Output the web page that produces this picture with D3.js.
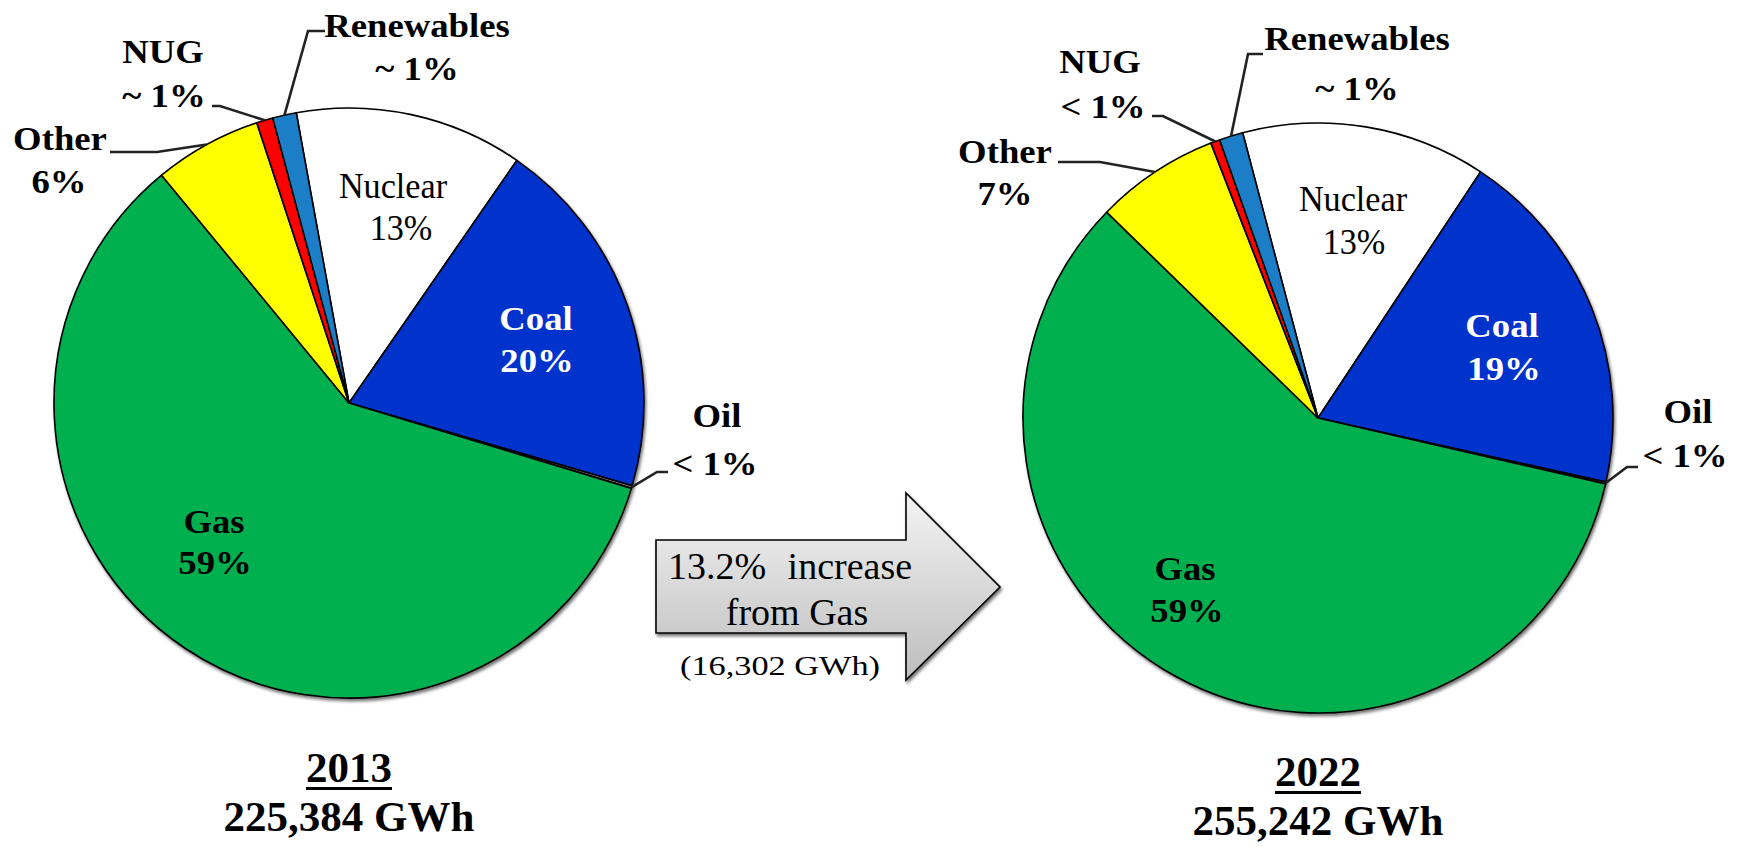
<!DOCTYPE html>
<html>
<head>
<meta charset="utf-8">
<script src="https://cdn.jsdelivr.net/npm/d3@7"></script>
<style>
  html, body { margin: 0; padding: 0; background: #fff; }
  svg { display: block; }
  text { font-family: "Liberation Serif", "Times New Roman", serif; }
</style>
</head>
<body>
<svg id="chart" width="1744" height="847"></svg>
<script>
// ---------- DATA ----------
const categories = ["Nuclear", "Coal", "Oil", "Gas", "Other", "NUG", "Renewables"];
const values2013 = [12.5, 19.9, 0.15, 59.4, 5.9, 0.9, 1.3];
const values2022 = [13.4, 19.2, 0.1, 58.7, 6.8, 0.5, 1.3];
const pctLabels2013 = ["13%", "20%", "< 1%", "59%", "6%", "~ 1%", "~ 1%"];
const pctLabels2022 = ["13%", "19%", "< 1%", "59%", "7%", "< 1%", "~ 1%"];
const years = ["2013", "2022"];
const totals = ["225,384 GWh", "255,242 GWh"];
const arrowLines = ["13.2% increase", "from Gas"];
const arrowNote = "(16,302 GWh)";

// ---------- STYLE / LAYOUT ----------
const colors = {
  Nuclear: "#FFFFFF", Coal: "#0033CC", Oil: "#7F7F7F", Gas: "#00B050",
  Other: "#FFFF00", NUG: "#FF0000", Renewables: "#1B7EC6"
};
const textColors = { Coal: "#FFFFFF" };
const regularCats = { Nuclear: true };

const pies = [
  {
    values: values2013, labels: pctLabels2013, year: years[0], total: totals[0],
    cx: 349, cy: 403, r: 295, start: -10.3,
    titleY: 782, totalY: 831,
    text: {
      Renewables: [[68, -366], [68, -323]],
      NUG: [[-186, -340], [-185, -296]],
      Other: [[-289, -253], [-290, -210]],
      Nuclear: [[44, -205], [52, -163]],
      Coal: [[187, -73], [188, -31]],
      Oil: [[368, 24], [366, 72]],
      Gas: [[-135, 130], [-134, 171]]
    },
    leaders: {
      Renewables: [[-24, -372], [-41, -372]],
      NUG: [[-137, -297], [-129, -297]],
      Other: [[-239, -251], [-192, -251]],
      Oil: [[319, 69], [308, 69]]
    }
  },
  {
    values: values2022, labels: pctLabels2022, year: years[1], total: totals[1],
    cx: 1318, cy: 418, r: 295, start: -14.8,
    titleY: 786, totalY: 835,
    text: {
      Renewables: [[39, -368], [39, -318]],
      NUG: [[-218, -345], [-215, -300]],
      Other: [[-313, -255], [-313, -213]],
      Nuclear: [[35, -207], [36, -164]],
      Coal: [[184, -81], [186, -38]],
      Oil: [[370, 5], [367, 49]],
      Gas: [[-133, 162], [-131, 204]]
    },
    leaders: {
      Renewables: [[-55, -364], [-70, -364]],
      NUG: [[-166, -302], [-155, -302]],
      Other: [[-260, -256], [-218, -256]],
      Oil: [[320, 49], [309, 49]]
    }
  }
];

const svg = d3.select("#chart");
const defs = svg.append("defs");

const shadow = defs.append("filter").attr("id", "shadow")
  .attr("x", "-10%").attr("y", "-10%").attr("width", "120%").attr("height", "120%");
shadow.append("feDropShadow").attr("dx", 1.5).attr("dy", 2.5)
  .attr("stdDeviation", 1.5).attr("flood-color", "#000").attr("flood-opacity", 0.55);

const grad = defs.append("linearGradient").attr("id", "arrowGrad")
  .attr("x1", 0).attr("y1", 0).attr("x2", 0).attr("y2", 1);
grad.append("stop").attr("offset", "0%").attr("stop-color", "#F4F4F4");
grad.append("stop").attr("offset", "100%").attr("stop-color", "#BDBDBD");

const deg = Math.PI / 180;

pies.forEach(p => {
  const data = categories.map((c, i) => ({ cat: c, value: p.values[i], label: p.labels[i] }));
  const pie = d3.pie().sort(null).value(d => d.value)
    .startAngle(p.start * deg).endAngle(p.start * deg + 2 * Math.PI);
  const arcs = pie(data);
  const arc = d3.arc().innerRadius(0).outerRadius(p.r);
  const rim = d3.arc().innerRadius(p.r).outerRadius(p.r);

  const g = svg.append("g").attr("transform", `translate(${p.cx},${p.cy})`);

  const slices = g.append("g").attr("filter", "url(#shadow)");
  slices.selectAll("path").data(arcs).join("path")
    .attr("d", arc)
    .attr("fill", d => colors[d.data.cat])
    .attr("stroke", "#000")
    .attr("stroke-width", 1.6)
    .attr("stroke-linejoin", "round");

  // leader lines
  arcs.forEach(a => {
    const L = p.leaders[a.data.cat];
    if (!L) return;
    const end = rim.centroid(a);
    g.append("path")
      .attr("d", d3.line()([L[0], L[1], end]))
      .attr("fill", "none")
      .attr("stroke", "#222")
      .attr("stroke-width", 2.6);
  });

  // labels
  arcs.forEach(a => {
    const cat = a.data.cat;
    const T = p.text[cat];
    if (!T) return;
    const regular = !!regularCats[cat];
    const fs = regular ? 36 : 34;
    const sx = regular ? 0.95 : 1.08;
    const fill = textColors[cat] || "#000";
    [[cat, T[0]], [a.data.label, T[1]]].forEach(([txt, pos]) => {
      g.append("text")
        .attr("transform", `translate(${pos[0]},${pos[1]}) scale(${sx},1)`)
        .attr("text-anchor", "middle")
        .attr("font-size", fs)
        .attr("font-weight", regular ? "normal" : "bold")
        .attr("fill", fill)
        .text(txt);
    });
  });

  // year + total
  const yt = svg.append("text")
    .attr("x", p.cx).attr("y", p.titleY)
    .attr("text-anchor", "middle").attr("font-size", 43).attr("font-weight", "bold")
    .text(p.year);
  const w = yt.node().getComputedTextLength();
  svg.append("rect")
    .attr("x", p.cx - w / 2).attr("y", p.titleY + 5)
    .attr("width", w).attr("height", 3).attr("fill", "#000");
  svg.append("text")
    .attr("x", p.cx).attr("y", p.totalY)
    .attr("text-anchor", "middle").attr("font-size", 43).attr("font-weight", "bold")
    .text(p.total);
});

// ---------- ARROW ----------
const arrowPts = [[656, 540], [906, 540], [906, 493], [1000, 587], [906, 680], [906, 633], [656, 633]];
svg.append("path")
  .attr("d", d3.line()(arrowPts) + "Z")
  .attr("fill", "url(#arrowGrad)")
  .attr("stroke", "#000")
  .attr("stroke-width", 1.6)
  .attr("stroke-linejoin", "miter")
  .attr("filter", "url(#shadow)");

svg.append("text").attr("x", 790).attr("y", 579)
  .attr("text-anchor", "middle").attr("font-size", 38)
  .attr("word-spacing", 12).text(arrowLines[0]);
svg.append("text").attr("x", 797).attr("y", 625)
  .attr("text-anchor", "middle").attr("font-size", 38).text(arrowLines[1]);
svg.append("text")
  .attr("transform", "translate(780,675) scale(1.27,1)")
  .attr("text-anchor", "middle").attr("font-size", 27).text(arrowNote);
</script>
</body>
</html>
